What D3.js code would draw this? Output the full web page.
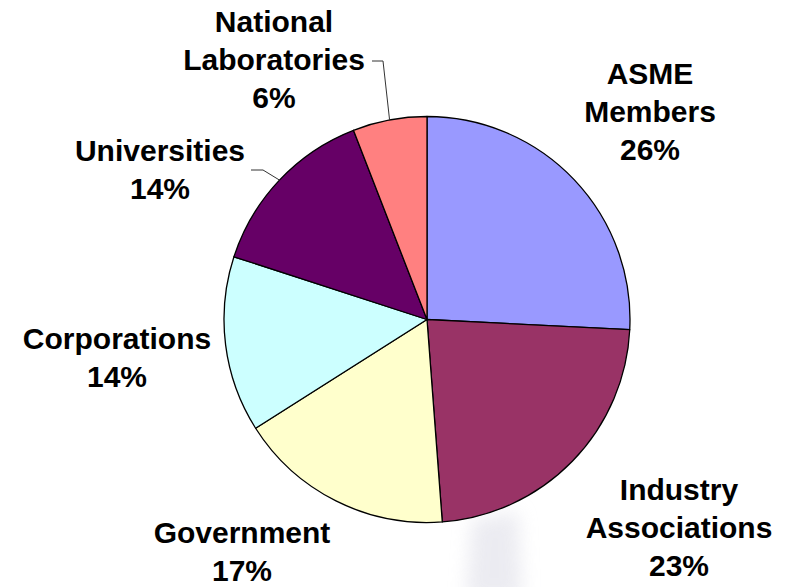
<!DOCTYPE html>
<html>
<head>
<meta charset="utf-8">
<script src="https://cdn.jsdelivr.net/npm/d3@7"></script>
<style>
  html, body { margin: 0; padding: 0; background: #ffffff; }
  svg { display: block; }
</style>
</head>
<body>
<svg id="chart" width="786" height="587"></svg>
<script>
// ---- data ----
const categories = ["ASME Members", "Industry Associations", "Government", "Corporations", "Universities", "National Laboratories"];
const labelLines = [["ASME", "Members"], ["Industry", "Associations"], ["Government"], ["Corporations"], ["Universities"], ["National", "Laboratories"]];
const shares = [25.8, 23.0, 17.2, 14.0, 14.1, 5.9];
const colors = ["#9999FF", "#993366", "#FFFFCC", "#CCFFFF", "#660066", "#FF8080"];

// ---- layout (not data) ----
const cx = 427, cy = 319.5, R = 203;
const labelPos = [
  { x: 650, y: 84 },
  { x: 679, y: 500 },
  { x: 242, y: 543 },
  { x: 117, y: 349 },
  { x: 160, y: 161 },
  { x: 274, y: 32 }
];
const lineGap = 38;
// leader lines: [label-side start x, elbow x, y] for slices that have them
const leaders = { 4: { x0: 251, x1: 263, y: 170 }, 5: { x0: 372, x1: 383, y: 61 } };

const svg = d3.select("#chart");

// faint background watermark
const defs = svg.append("defs");
defs.append("filter").attr("id", "blur")
  .attr("x", "-50%").attr("y", "-50%").attr("width", "200%").attr("height", "200%")
  .append("feGaussianBlur").attr("stdDeviation", 9);
svg.append("path")
  .attr("d", "M472,520 L518,512 L522,600 L466,600 Z")
  .attr("fill", "#dcdce6")
  .attr("opacity", 0.55)
  .attr("filter", "url(#blur)");

const pie = d3.pie().sort(null).value(d => d).startAngle(0).endAngle(2 * Math.PI);
const arcs = pie(shares);
const arc = d3.arc().innerRadius(0).outerRadius(R);

const g = svg.append("g").attr("transform", `translate(${cx},${cy})`);
g.selectAll("path.slice")
  .data(arcs)
  .join("path")
  .attr("class", "slice")
  .attr("d", arc)
  .attr("fill", (d, i) => colors[i])
  .attr("stroke", "#000")
  .attr("stroke-width", 1.3)
  .attr("stroke-linejoin", "round");

// leader lines
Object.keys(leaders).forEach(k => {
  const i = +k;
  const a = (arcs[i].startAngle + arcs[i].endAngle) / 2;
  const ex = cx + R * Math.sin(a), ey = cy - R * Math.cos(a);
  const L = leaders[k];
  svg.append("polyline")
    .attr("points", `${L.x0},${L.y} ${L.x1},${L.y} ${ex},${ey}`)
    .attr("fill", "none")
    .attr("stroke", "#333")
    .attr("stroke-width", 1);
});

// labels
const fmt = v => d3.format(".0f")(v) + "%";
categories.forEach((c, i) => {
  const lines = labelLines[i].concat([fmt(shares[i])]);
  const t = svg.append("text")
    .attr("x", labelPos[i].x)
    .attr("y", labelPos[i].y)
    .attr("text-anchor", "middle")
    .attr("font-family", "'Liberation Sans', Arial, sans-serif")
    .attr("font-weight", "bold")
    .attr("font-size", 30)
    .attr("fill", "#000");
  lines.forEach((ln, j) => {
    t.append("tspan").attr("x", labelPos[i].x).attr("y", labelPos[i].y + j * lineGap).text(ln);
  });
});
</script>
</body>
</html>
